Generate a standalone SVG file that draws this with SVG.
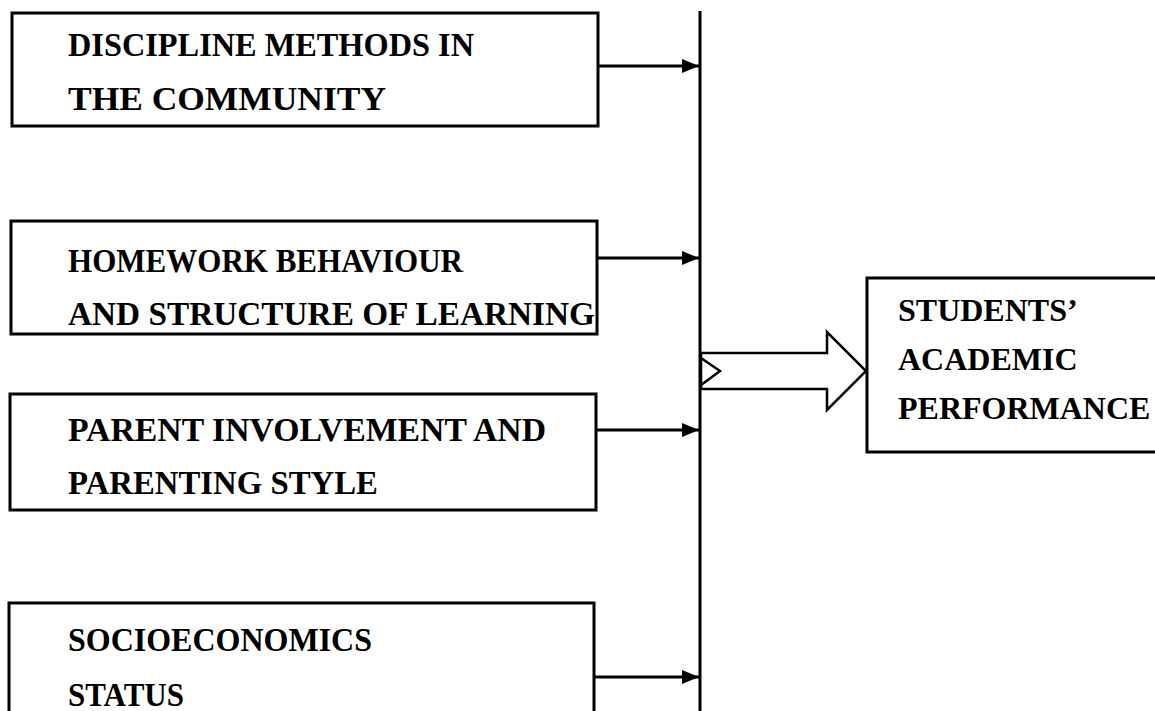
<svg xmlns="http://www.w3.org/2000/svg" width="1155" height="711" viewBox="0 0 1155 711">
<style>
.box{fill:#fff;stroke:#000;stroke-width:3}
.t{font-family:"Liberation Serif","Times New Roman",serif;font-weight:bold;font-size:33px;fill:#000}
.tr{font-family:"Liberation Serif","Times New Roman",serif;font-weight:bold;font-size:32px;fill:#000}
.c{stroke:#000;stroke-width:3;fill:none}
.blk{fill:#fff;stroke:#000;stroke-width:2.5;stroke-linejoin:miter}
</style>
<defs>
<marker id="ah" markerWidth="18" markerHeight="16" refX="17" refY="8" orient="auto" markerUnits="userSpaceOnUse">
<path d="M0,1 L17,8 L0,15 Z" fill="#000"/>
</marker>
</defs>
<g id="connectors">
<line class="c" x1="700" y1="11" x2="700" y2="711"/>
<line class="c" x1="598" y1="66" x2="699" y2="66" marker-end="url(#ah)"/>
<line class="c" x1="598" y1="258" x2="699" y2="258" marker-end="url(#ah)"/>
<line class="c" x1="597" y1="430" x2="699" y2="430" marker-end="url(#ah)"/>
<line class="c" x1="595" y1="677" x2="699" y2="677" marker-end="url(#ah)"/>
<polygon class="blk" points="701,353 827,353 827,332 866,371 827,410 827,389 701,389"/>
<polyline class="c" style="stroke-width:2.5" points="701,358 720,371 701,385"/>
</g>
<g id="node-discipline">
<rect class="box" x="12" y="13" width="586" height="113"/>
<text class="t" x="68" y="56" textLength="406" lengthAdjust="spacingAndGlyphs">DISCIPLINE METHODS IN</text>
<text class="t" x="68" y="110" textLength="318" lengthAdjust="spacingAndGlyphs">THE COMMUNITY</text>
</g>
<g id="node-homework">
<rect class="box" x="11" y="221" width="586" height="113"/>
<text class="t" x="68" y="272" textLength="395" lengthAdjust="spacingAndGlyphs">HOMEWORK BEHAVIOUR</text>
<text class="t" x="68" y="325" textLength="527" lengthAdjust="spacingAndGlyphs">AND STRUCTURE OF LEARNING</text>
</g>
<g id="node-parent">
<rect class="box" x="10" y="394" width="586" height="116"/>
<text class="t" x="68" y="441" textLength="478" lengthAdjust="spacingAndGlyphs">PARENT INVOLVEMENT AND</text>
<text class="t" x="68" y="494" textLength="310" lengthAdjust="spacingAndGlyphs">PARENTING STYLE</text>
</g>
<g id="node-socio">
<rect class="box" x="9" y="603" width="585" height="130"/>
<text class="t" x="68" y="651" textLength="304" lengthAdjust="spacingAndGlyphs">SOCIOECONOMICS</text>
<text class="t" x="68" y="706" textLength="116" lengthAdjust="spacingAndGlyphs">STATUS</text>
</g>
<g id="node-students">
<rect class="box" x="867" y="278" width="310" height="174"/>
<text class="tr" x="898" y="321">STUDENTS’</text>
<text class="tr" x="898" y="370">ACADEMIC</text>
<text class="tr" x="898" y="419">PERFORMANCE</text>
</g>
</svg>
